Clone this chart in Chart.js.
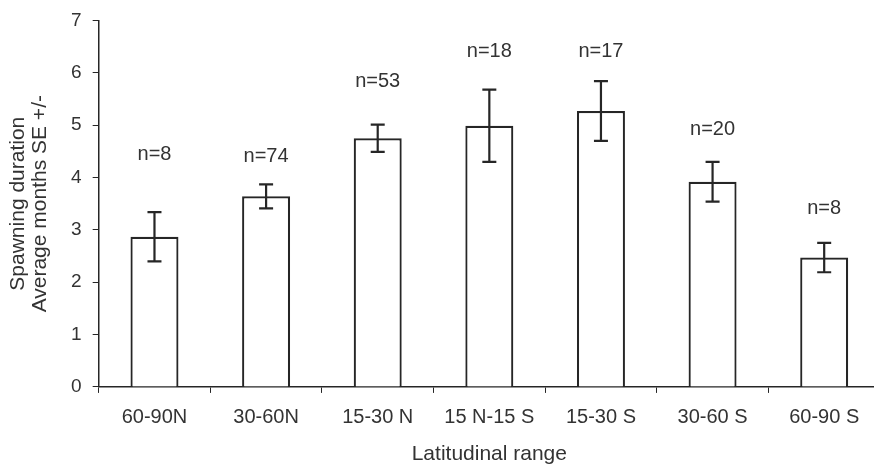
<!DOCTYPE html>
<html>
<head>
<meta charset="utf-8">
<script src="https://cdn.jsdelivr.net/npm/chart.js@4"></script>
<style>
  html, body { margin: 0; padding: 0; background: #fff; overflow: hidden; }
  #wrap { width: 882px; height: 466px; }
</style>
</head>
<body>
<div id="wrap"><canvas id="chart"></canvas></div>
<script>
const categories = ["60-90N", "30-60N", "15-30 N", "15 N-15 S", "15-30 S", "30-60 S", "60-90 S"];
const means = [2.87, 3.64, 4.75, 4.99, 5.27, 3.92, 2.47];
const stdErr = [0.47, 0.23, 0.26, 0.69, 0.57, 0.38, 0.28];
const sampleSizes = [8, 74, 53, 18, 17, 20, 8];
const labelLevel = [4.44, 4.40, 5.83, 6.41, 6.41, 4.91, 3.40];
const yTicks = [0, 1, 2, 3, 4, 5, 6, 7];

const ink = "#262626";
const font = "'Liberation Sans', Arial, sans-serif";

// error bars and n= labels
const errorBars = {
  id: "errorBars",
  afterDatasetsDraw(chart) {
    const ctx = chart.ctx;
    const x = chart.scales.x;
    const y = chart.scales.y;
    ctx.save();
    ctx.strokeStyle = ink;
    ctx.lineWidth = 2.2;
    means.forEach((m, i) => {
      const cx = x.getPixelForValue(i);
      const top = y.getPixelForValue(m + stdErr[i]);
      const bot = y.getPixelForValue(m - stdErr[i]);
      ctx.beginPath();
      ctx.moveTo(cx, top); ctx.lineTo(cx, bot);
      ctx.moveTo(cx - 7, top); ctx.lineTo(cx + 7, top);
      ctx.moveTo(cx - 7, bot); ctx.lineTo(cx + 7, bot);
      ctx.stroke();
    });
    ctx.fillStyle = "#333";
    ctx.font = "20px " + font;
    ctx.textAlign = "center";
    ctx.textBaseline = "middle";
    sampleSizes.forEach((n, i) => {
      ctx.fillText("n=" + n, x.getPixelForValue(i), y.getPixelForValue(labelLevel[i]));
    });
    ctx.restore();
  }
};

new Chart(document.getElementById("chart"), {
  type: "bar",
  data: {
    labels: categories,
    datasets: [{
      data: means,
      backgroundColor: "#ffffff",
      borderColor: ink,
      borderWidth: 2.2,
      barPercentage: 0.43,
      categoryPercentage: 1
    }]
  },
  options: {
    responsive: true,
    maintainAspectRatio: false,
    animation: false,
    layout: { padding: { top: 5, right: 2, left: 7, bottom: 0 } },
    plugins: {
      legend: { display: false },
      tooltip: { enabled: false }
    },
    scales: {
      x: {
        offset: true,
        grid: {
          offset: true,
          drawOnChartArea: false,
          drawTicks: true,
          tickLength: 6,
          color: ink
        },
        border: { color: ink, width: 1.5 },
        ticks: { color: "#333", font: { size: 20, family: font }, padding: 13, maxRotation: 0 },
        title: {
          display: true,
          text: "Latitudinal range",
          color: "#333",
          font: { size: 21, family: font, lineHeight: 1.1 },
          padding: { top: 0, bottom: 0 }
        }
      },
      y: {
        min: 0,
        max: 7,
        afterBuildTicks(axis) { axis.ticks = yTicks.map(v => ({ value: v })); },
        grid: {
          drawOnChartArea: false,
          drawTicks: true,
          tickLength: 6,
          color: ink
        },
        border: { color: ink, width: 1.5 },
        ticks: { color: "#333", font: { size: 19, family: font, lineHeight: 1.0 }, padding: 11 },
        title: {
          display: true,
          text: ["Spawning duration", "Average months SE +/-"],
          color: "#333",
          font: { size: 21, family: font, lineHeight: 1.05 },
          padding: { top: 0, bottom: 9 }
        }
      }
    }
  },
  plugins: [errorBars]
});
</script>
</body>
</html>
